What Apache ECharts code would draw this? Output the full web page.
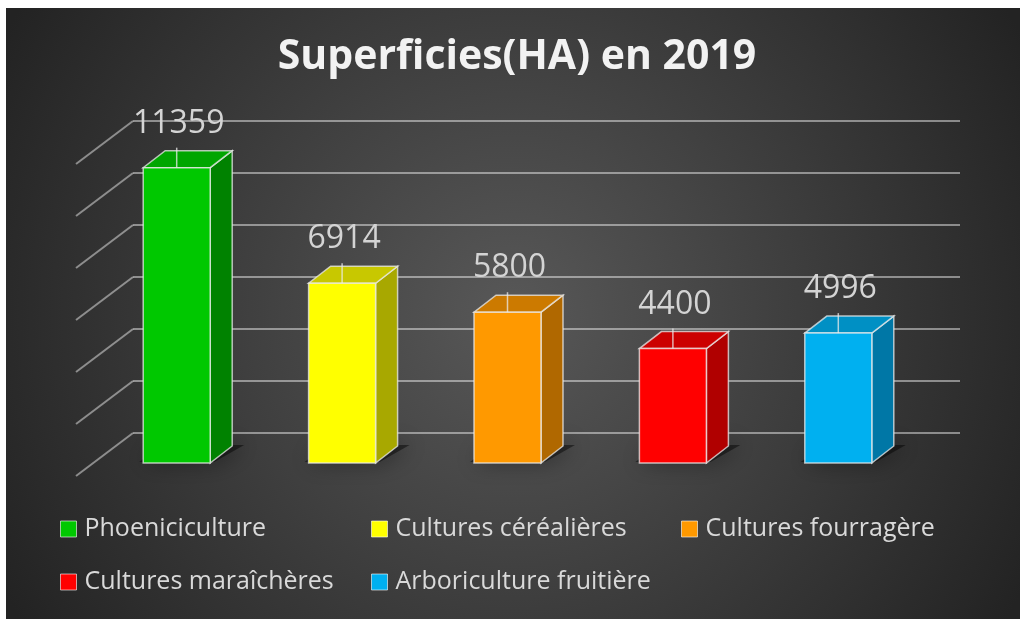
<!DOCTYPE html>
<html>
<head>
<meta charset="utf-8">
<title>Superficies(HA) en 2019</title>
<script src="https://cdn.jsdelivr.net/npm/echarts@6/dist/echarts.min.js"></script>
<style>
  html, body { margin: 0; padding: 0; background: #fff; }
  #chart { width: 1020px; height: 619px; }
</style>
</head>
<body>
<div id="chart"></div>
<script>
// données
const categories = ['Phoeniciculture', 'Cultures céréalières', 'Cultures fourragère', 'Cultures maraîchères', 'Arboriculture fruitière']
const values = [11359, 6914, 5800, 4400, 4996]
const yTicks = [0, 2000, 4000, 6000, 8000, 10000, 12000]

// couleurs des faces (avant, côté, dessus)
const palette = [
  { front: '#00c800', side: '#008200', top: '#00a600' },
  { front: '#ffff00', side: '#a8a800', top: '#c8c800' },
  { front: '#ff9900', side: '#b06800', top: '#cc7a00' },
  { front: '#ff0000', side: '#b00000', top: '#cc0000' },
  { front: '#00b0f0', side: '#0077a6', top: '#0090c4' }
]

// placement des légendes [left, top]
const legendPos = [[60, 514], [371, 514], [681, 514], [60, 567], [371, 567]]

const X_MIN = -0.5
const X_MAX = 4.5
// décalages pseudo 3D (px)
const SHIFT_X = -39
const SHIFT_Y = 30
const HALF_W = 33.5
const DEPTH_X = 22
const DEPTH_Y = -17
const EDGE = 'rgba(235,235,235,0.75)'

const chart = echarts.init(document.getElementById('chart'))

function renderBar(params, api) {
  const i = api.value(0)
  const v = api.value(1)
  const c = palette[i]
  const top = api.coord([i, v])
  const base = api.coord([i, 0])
  const fcx = top[0] + SHIFT_X
  const fl = fcx - HALF_W
  const fr = fcx + HALF_W
  const yt = top[1] + SHIFT_Y
  const yb = base[1] + SHIFT_Y
  return {
    type: 'group',
    children: [
      // ombre au sol
      {
        type: 'polygon',
        shape: { points: [[fl - 4, yb - 1], [fr + 4, yb - 1], [fr + DEPTH_X + 12, yb + DEPTH_Y - 1], [fl + DEPTH_X - 4, yb + DEPTH_Y - 1]] },
        style: { fill: 'rgba(0,0,0,0.45)', shadowBlur: 22, shadowColor: 'rgba(0,0,0,0.95)', shadowOffsetX: 2 },
        silent: true
      },
      {
        type: 'polygon',
        shape: { points: [[fr, yt], [fr + DEPTH_X, yt + DEPTH_Y], [fr + DEPTH_X, yb + DEPTH_Y], [fr, yb]] },
        style: { fill: c.side, stroke: EDGE, lineWidth: 1.5 }
      },
      {
        type: 'polygon',
        shape: { points: [[fl, yt], [fr, yt], [fr + DEPTH_X, yt + DEPTH_Y], [fl + DEPTH_X, yt + DEPTH_Y]] },
        style: { fill: c.top, stroke: EDGE, lineWidth: 1.5 }
      },
      {
        type: 'rect',
        shape: { x: fl, y: yt, width: fr - fl, height: yb - yt },
        style: { fill: c.front, stroke: EDGE, lineWidth: 1.5 }
      },
      {
        type: 'line',
        shape: { x1: fcx, y1: yt, x2: fcx, y2: yt - 20 },
        style: { stroke: EDGE, lineWidth: 1.5 }
      },
      {
        type: 'text',
        style: {
          text: String(v),
          x: fcx + 2,
          y: yt - 44,
          align: 'center',
          verticalAlign: 'middle',
          fill: '#d4d4d4',
          font: '32px "Open Sans", sans-serif'
        }
      }
    ]
  }
}

function renderWall(params, api) {
  const p = api.coord([api.value(0), api.value(1)])
  return {
    type: 'line',
    shape: { x1: p[0], y1: p[1], x2: p[0] - 57, y2: p[1] + 43 },
    style: { stroke: 'rgba(255,255,255,0.45)', lineWidth: 2 },
    silent: true
  }
}

const series = [
  {
    type: 'custom',
    name: 'mur',
    renderItem: renderWall,
    data: yTicks.map(t => [X_MIN, t]),
    silent: true,
    z: 1
  }
].concat(categories.map((name, i) => ({
  type: 'custom',
  name: name,
  renderItem: renderBar,
  itemStyle: { color: palette[i].front },
  data: [[i, values[i]]],
  z: 2
})))

const legends = categories.map((name, i) => ({
  data: [name],
  left: legendPos[i][0],
  top: legendPos[i][1],
  padding: 0,
  icon: 'rect',
  itemWidth: 16,
  itemHeight: 16,
  itemStyle: { borderColor: 'rgba(255,255,255,0.6)', borderWidth: 1 },
  textStyle: {
    color: '#d9d9d9',
    fontFamily: '"Open Sans", sans-serif',
    fontSize: 25,
    lineHeight: 30,
    padding: [0, 0, 0, 3]
  }
}))

const option = {
  animation: false,
  backgroundColor: '#ffffff',
  graphic: [
    {
      type: 'rect',
      z: -100,
      silent: true,
      shape: { x: 6, y: 8, width: 1014, height: 611 },
      style: {
        fill: new echarts.graphic.RadialGradient(0.5, 0.5, 0.95, [
          { offset: 0, color: '#585858' },
          { offset: 1, color: '#232323' }
        ])
      }
    },
    {
      type: 'text',
      z: 10,
      x: 517,
      y: 57,
      style: {
        text: 'Superficies(HA) en 2019',
        align: 'center',
        verticalAlign: 'middle',
        fill: '#f2f2f2',
        font: 'bold 41px "Open Sans", sans-serif',
        shadowColor: 'rgba(0,0,0,0.7)',
        shadowBlur: 4,
        shadowOffsetX: 1,
        shadowOffsetY: 2
      }
    }
  ],
  legend: legends,
  grid: { left: 133, right: 60, top: 121, bottom: 186 },
  xAxis: { type: 'value', min: X_MIN, max: X_MAX, show: false },
  yAxis: {
    type: 'value',
    min: 0,
    max: 12000,
    interval: 2000,
    axisLine: { show: false },
    axisTick: { show: false },
    axisLabel: { show: false },
    splitLine: { lineStyle: { color: 'rgba(255,255,255,0.45)', width: 2 } }
  },
  series: series
}

chart.setOption(option)
</script>
</body>
</html>
